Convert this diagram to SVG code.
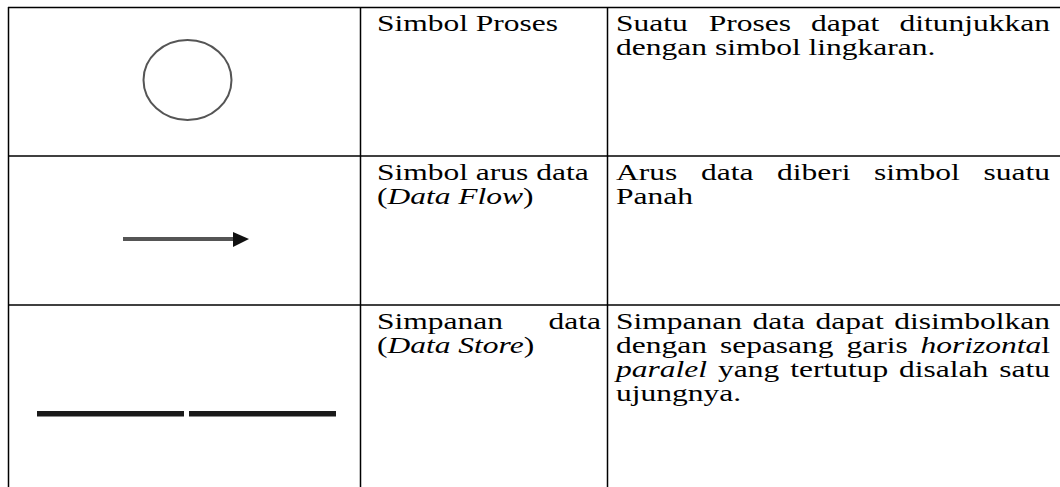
<svg xmlns="http://www.w3.org/2000/svg" width="1060" height="487" viewBox="0 0 1060 487">
<style>
.grid{stroke:#000;stroke-width:1.5;fill:none}
.t{font-family:"Liberation Serif","Times New Roman",serif;font-size:24px;fill:#000}
.i{font-style:italic}
.e{text-anchor:end}
</style>
<rect width="1060" height="487" fill="#fff"/>
<g id="table-grid">
<line class="grid" x1="8" y1="7.5" x2="1060" y2="7.5"/>
<line class="grid" x1="8" y1="156" x2="1060" y2="156"/>
<line class="grid" x1="8" y1="305" x2="1060" y2="305"/>
<line class="grid" x1="8.5" y1="7" x2="8.5" y2="487"/>
<line class="grid" x1="360.5" y1="7" x2="360.5" y2="487"/>
<line class="grid" x1="607.5" y1="7" x2="607.5" y2="487"/>
</g>
<g id="row-process">
<ellipse cx="187.5" cy="80" rx="44" ry="40" fill="none" stroke="#555" stroke-width="2"/>
<g transform="scale(1.3125,1)">
<text class="t" x="287.2" y="31">Simbol Proses</text>
<text class="t" x="469.4" y="31">Suatu</text>
<text class="t" x="540" y="31">Proses</text>
<text class="t" x="617.9" y="31">dapat</text>
<text class="t e" x="800" y="31">ditunjukkan</text>
<text class="t" x="469.4" y="55">dengan simbol lingkaran.</text>
</g>
</g>
<g id="row-dataflow">
<line x1="123" y1="239" x2="236" y2="239" stroke="#555" stroke-width="4"/>
<polygon points="233,232 249,239 233,247" fill="#111"/>
<g transform="scale(1.3125,1)">
<text class="t" x="287.2" y="180">Simbol arus data</text>
<text class="t" x="287.2" y="204">(<tspan class="i">Data Flow</tspan>)</text>
<text class="t" x="469.4" y="180">Arus</text>
<text class="t" x="534.1" y="180">data</text>
<text class="t" x="592" y="180">diberi</text>
<text class="t" x="665.9" y="180">simbol</text>
<text class="t e" x="800" y="180">suatu</text>
<text class="t" x="469.4" y="204">Panah</text>
</g>
</g>
<g id="row-datastore">
<rect x="37" y="411" width="147" height="5.5" fill="#1a1a1a"/>
<rect x="189" y="411" width="147" height="5.5" fill="#1a1a1a"/>
<g transform="scale(1.3125,1)">
<text class="t" x="287.2" y="329">Simpanan</text>
<text class="t e" x="457.9" y="329">data</text>
<text class="t" x="287.2" y="353">(<tspan class="i">Data Store</tspan>)</text>
<text class="t" x="469.4" y="329">Simpanan</text>
<text class="t" x="573.4" y="329">data</text>
<text class="t" x="621.4" y="329">dapat</text>
<text class="t e" x="800" y="329">disimbolkan</text>
<text class="t" x="469.4" y="353">dengan</text>
<text class="t" x="548.5" y="353">sepasang</text>
<text class="t" x="644.9" y="353">garis</text>
<text class="t e" x="800" y="353"><tspan class="i">horizonta</tspan>l</text>
<text class="t i" x="469.4" y="377">paralel</text>
<text class="t" x="547.1" y="377">yang</text>
<text class="t" x="602.1" y="377">tertutup</text>
<text class="t" x="685" y="377">disalah</text>
<text class="t e" x="800" y="377">satu</text>
<text class="t" x="469.4" y="401">ujungnya.</text>
</g>
</g>
<g id="connectors"/>
</svg>
